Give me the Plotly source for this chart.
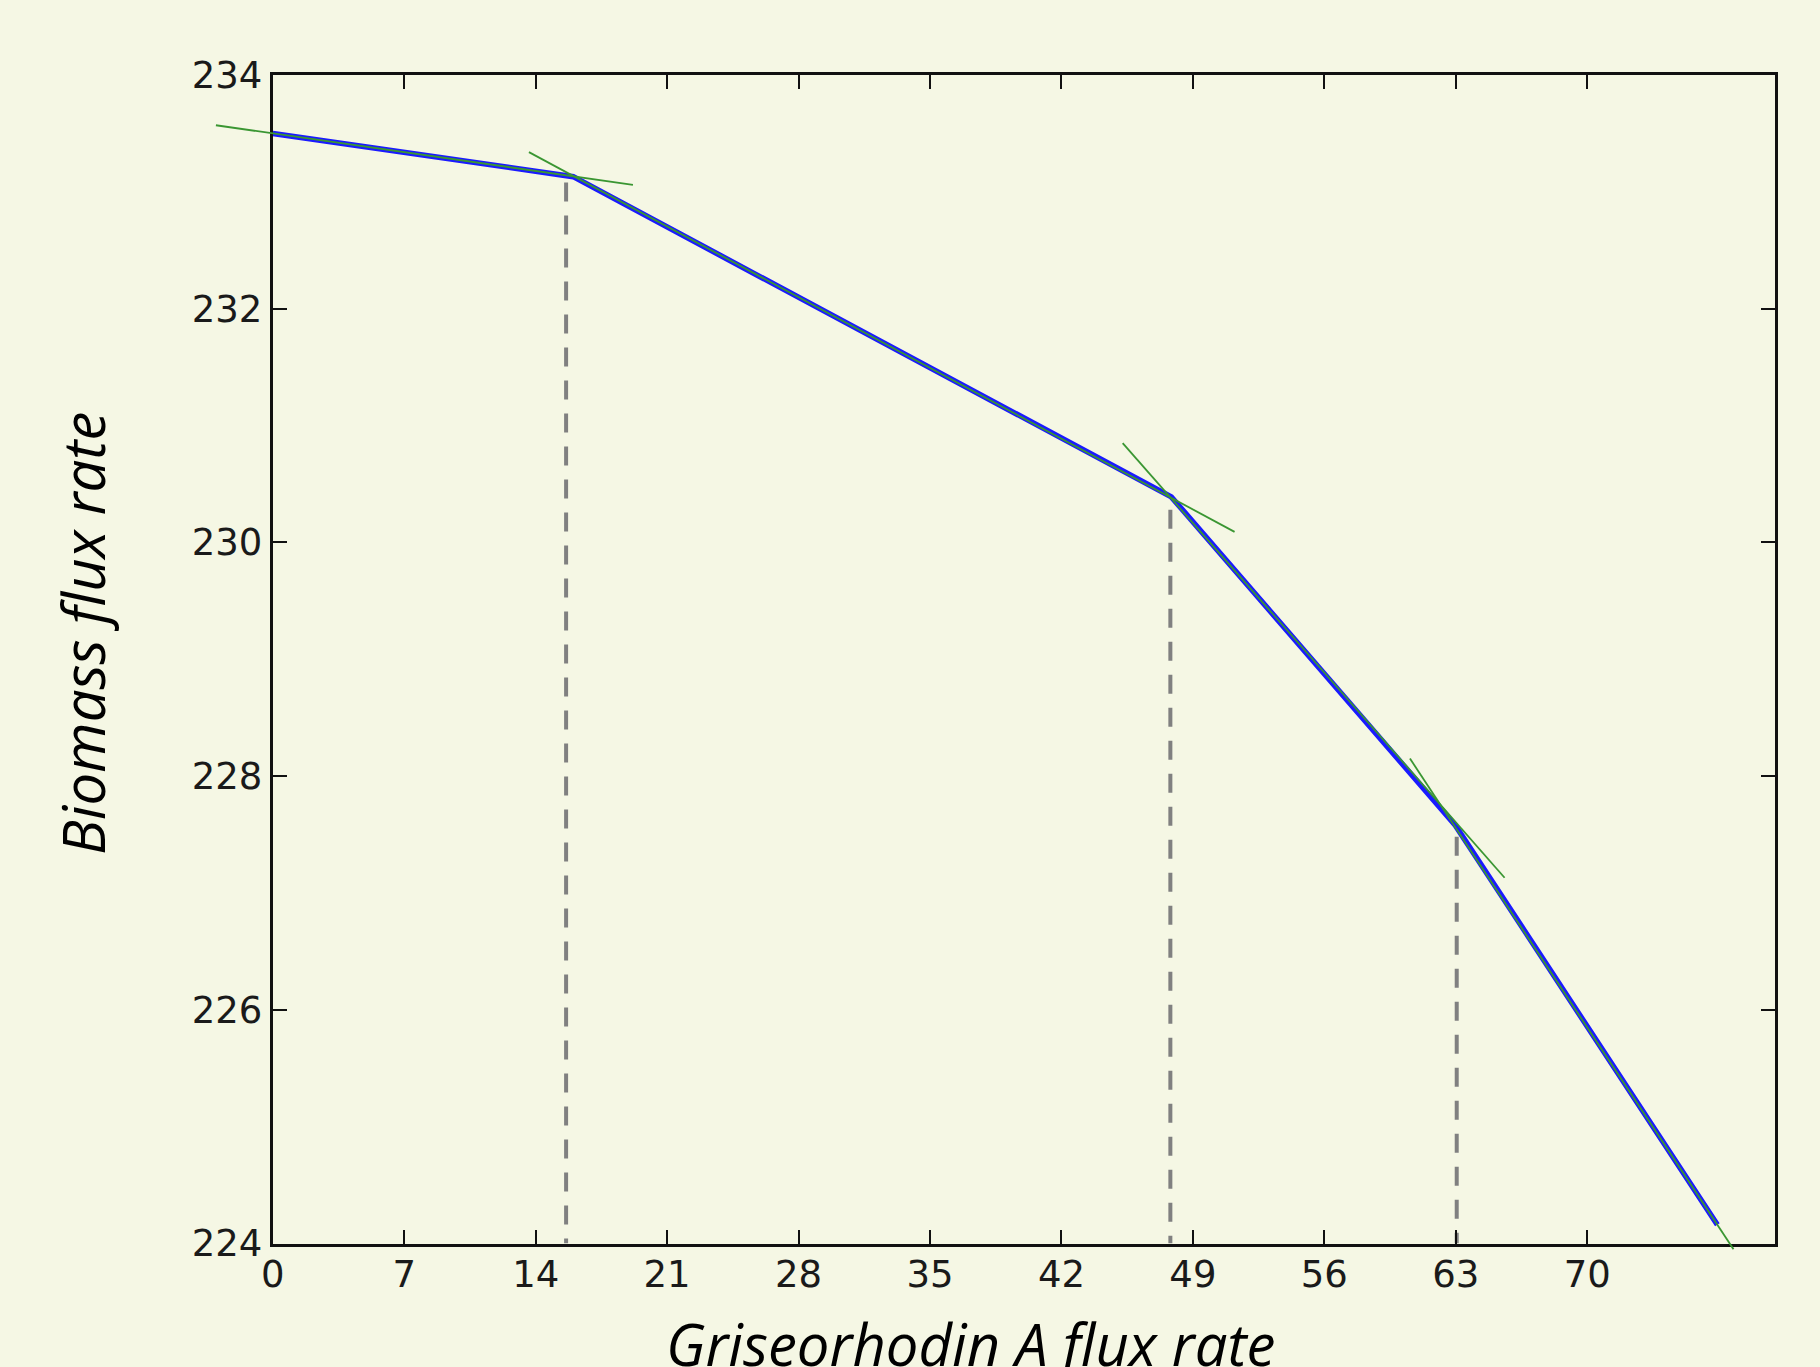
import plotly.graph_objects as go

# ---------------- data ----------------
flux_x = [0.0, 16.0, 47.85, 62.97, 76.93]
biomass_y = [233.50, 233.13, 230.39, 227.58, 224.16]

cut_x = [15.62, 47.80, 63.05]
cut_top = [233.08, 230.28, 227.48]
cut_bottom = 224.0

tan_x0 = [-3.03, 13.64, 45.26, 60.56]
tan_y0 = [233.57, 233.34, 230.85, 228.15]
tan_x1 = [19.18, 51.22, 65.60, 77.79]
tan_y1 = [233.06, 230.09, 227.13, 223.95]

x_ticks = [0, 7, 14, 21, 28, 35, 42, 49, 56, 63, 70]
y_ticks = [224, 226, 228, 230, 232, 234]
x_range = [0, 80]
y_range = [224, 234]

x_title = "Griseorhodin A flux rate"
y_title = "Biomass flux rate"

# ---------------- layout geometry ----------------
W, H = 1820, 1367
BG = "#f5f7e4"
xdom = [272.8 / W, 1775.0 / W]
ydom = [(H - 1243.5) / H, (H - 75.0) / H]


def outer_range(rng, dom):
    span = rng[1] - rng[0]
    per = span / (dom[1] - dom[0])
    return [rng[0] - dom[0] * per, rng[1] + (1 - dom[1]) * per]


fig = go.Figure()

# dashed verticals
for cx, ct in zip(cut_x, cut_top):
    fig.add_trace(go.Scatter(
        x=[cx, cx], y=[ct, cut_bottom], mode="lines",
        line=dict(color="#808080", width=4, dash="19px,14px"),
        xaxis="x", yaxis="y", hoverinfo="skip", showlegend=False))

# blue piecewise line
fig.add_trace(go.Scatter(
    x=flux_x, y=biomass_y, mode="lines",
    line=dict(color="#1a1aff", width=5.5),
    xaxis="x", yaxis="y", showlegend=False))

# green tangent segments (on a full-paper overlay so they may leave the frame)
gx, gy = [], []
for a, b, c, d in zip(tan_x0, tan_x1, tan_y0, tan_y1):
    gx += [a, b, None]
    gy += [c, d, None]
fig.add_trace(go.Scatter(
    x=gx, y=gy, mode="lines",
    line=dict(color="#3a9632", width=1.8),
    xaxis="x2", yaxis="y2", showlegend=False, hoverinfo="skip"))

tick_font = dict(family="DejaVu Sans", size=37, color="#1a1a1a")
axis_common = dict(
    showgrid=False, zeroline=False, showline=True, linecolor="#111111",
    linewidth=3, mirror="ticks", ticks="inside", ticklen=14, tickwidth=1.5,
    tickcolor="#111111", tickfont=tick_font, automargin=False,
)

fig.update_layout(
    width=W, height=H,
    margin=dict(l=0, r=0, t=0, b=0, pad=0, autoexpand=False),
    paper_bgcolor=BG, plot_bgcolor="rgba(0,0,0,0)",
    xaxis=dict(domain=xdom, range=x_range, tickmode="array", tickvals=x_ticks,
               anchor="y", ticklabelstandoff=-4, **axis_common),
    yaxis=dict(domain=ydom, range=y_range, tickmode="array", tickvals=y_ticks,
               anchor="x", ticklabelstandoff=0, **axis_common),
    xaxis2=dict(domain=[0, 1], range=outer_range(x_range, xdom), visible=False,
                anchor="y2", fixedrange=True, automargin=False),
    yaxis2=dict(domain=[0, 1], range=outer_range(y_range, ydom), visible=False,
                anchor="x2", fixedrange=True, automargin=False),
    showlegend=False,
    annotations=[
        dict(text=x_title, xref="paper", yref="paper", x=970 / W, y=0.017,
             xanchor="center", yanchor="middle", showarrow=False,
             font=dict(family="Open Sans", size=58, color="#000000", style="italic")),
        dict(text=y_title, xref="paper", yref="paper", x=82 / W, y=(H - 634) / H,
             xanchor="center", yanchor="middle", showarrow=False, textangle=-90,
             font=dict(family="Open Sans", size=58, color="#000000", style="italic")),
    ],
)

fig.write_html("out.html", config={"displayModeBar": False},
               post_script="document.body.style.margin='0';document.body.style.overflow='hidden';")
